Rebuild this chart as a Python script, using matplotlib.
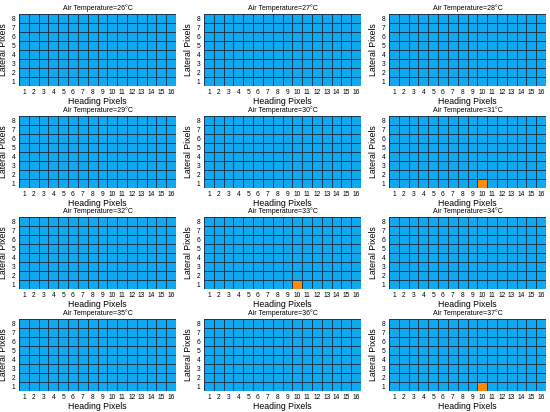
"""Heading/lateral pixel maps for twelve air temperatures."""

import matplotlib

matplotlib.use("Agg")
import matplotlib.pyplot as plt
import numpy as np
from matplotlib.colors import ListedColormap

TEMPERATURES_C = [26, 27, 28, 29, 30, 31, 32, 33, 34, 35, 36, 37]
# (heading pixel, lateral pixel) flagged at each temperature
HOT_CELLS = {
    31: [(10, 1)],
    33: [(10, 1)],
    37: [(10, 1)],
}
N_HEADING = 16
N_LATERAL = 8
HEADING_TICKS = list(range(1, N_HEADING + 1))
LATERAL_TICKS = list(range(1, N_LATERAL + 1))

BLUE = "#0fa9f0"
ORANGE = "#fd8a0c"

plt.rcParams["font.family"] = ["Liberation Sans", "DejaVu Sans"]

fig = plt.figure(figsize=(5.5, 4.12), dpi=100)
W, H = 550.0, 412.0
col_left = [19, 204, 389]
row_top = [14, 116, 217, 319]
ax_w, ax_h = 157, 72

cmap = ListedColormap([BLUE, ORANGE])

for i, temp in enumerate(TEMPERATURES_C):
    r, c = divmod(i, 3)
    ax = fig.add_axes([
        col_left[c] / W,
        1 - (row_top[r] + ax_h) / H,
        ax_w / W,
        ax_h / H,
    ])
    grid = np.zeros((N_LATERAL, N_HEADING))
    for hx, ly in HOT_CELLS.get(temp, []):
        grid[ly - 1, hx - 1] = 1
    xe = np.arange(N_HEADING + 1) + 0.5
    ye = np.arange(N_LATERAL + 1) + 0.5
    ax.pcolormesh(xe, ye, grid, cmap=cmap, vmin=0, vmax=1,
                  edgecolors="#1c3a58", linewidth=0.45)
    ax.set_xlim(0.5, N_HEADING + 0.5)
    ax.set_ylim(0.5, N_LATERAL + 0.5)
    ax.set_xticks(HEADING_TICKS)
    ax.set_yticks(LATERAL_TICKS)
    ax.tick_params(length=0, labelsize=4.8, pad=2.5)
    for s in ax.spines.values():
        s.set_visible(False)
    ax.set_title(f"Air Temperature={temp}°C", fontsize=5, pad=3)
    ax.set_xlabel("Heading Pixels", fontsize=6.3, labelpad=0.5)
    ax.set_ylabel("Lateral Pixels", fontsize=6.3, labelpad=2.5)

fig.savefig("out.png", dpi=100)
